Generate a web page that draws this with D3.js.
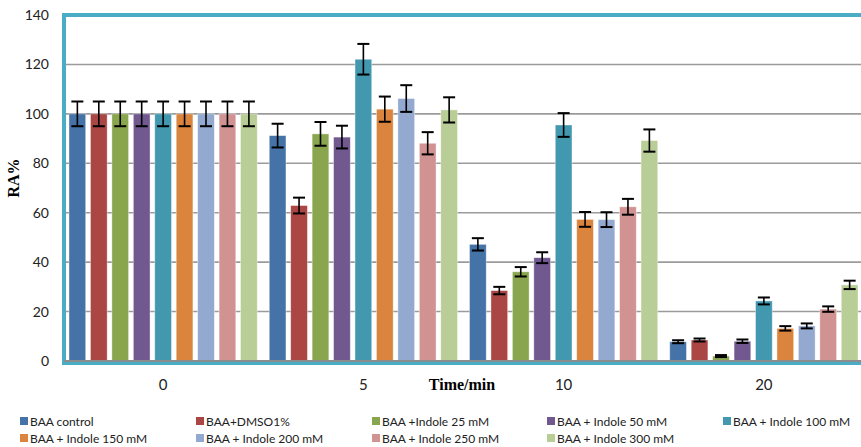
<!DOCTYPE html>
<html><head><meta charset="utf-8">
<script src="https://cdn.jsdelivr.net/npm/d3@7/dist/d3.min.js"></script>
<style>body{margin:0;background:#fff;}svg{display:block;}</style>
</head><body>
<svg id="chart" width="861" height="447"></svg>
<script>
const categories = ["0", "5", "10", "20"];
const seriesNames = ["BAA control", "BAA+DMSO1%", "BAA +Indole 25 mM", "BAA + Indole 50 mM", "BAA + Indole 100 mM",
  "BAA + Indole 150 mM", "BAA + Indole 200 mM", "BAA + Indole 250 mM", "BAA + Indole 300 mM"];
const colors = ["#4572A7", "#AA4643", "#89A54E", "#71588F", "#4198AF", "#DB843D", "#93A9CF", "#D19392", "#B9CD96"];
// values per series, across categories 0,5,10,20
const valControl = [100, 91.2, 47.2, 7.8];
const valDMSO = [100, 62.9, 28.5, 8.5];
const val25 = [100, 91.9, 36.1, 2.0];
const val50 = [100, 90.6, 41.8, 8.0];
const val100 = [100, 122.1, 95.5, 24.3];
const val150 = [100, 101.9, 57.3, 13.2];
const val200 = [100, 106.2, 57.2, 14.2];
const val250 = [100, 88.1, 62.4, 21.0];
const val300 = [100, 101.6, 89.2, 30.8];
const errControl = [5, 4.8, 2.5, 0.6];
const errDMSO = [5, 3.2, 1.5, 0.6];
const err25 = [5, 4.8, 1.9, 0.4];
const err50 = [5, 4.6, 2.2, 0.7];
const err100 = [5, 6.2, 4.8, 1.4];
const err150 = [5, 5.1, 3.0, 0.9];
const err200 = [5, 5.4, 3.0, 1.0];
const err250 = [5, 4.5, 3.2, 1.1];
const err300 = [5, 5.1, 4.5, 1.7];
const yTicks = [0, 20, 40, 60, 80, 100, 120, 140];

(function () {
const values = [valControl, valDMSO, val25, val50, val100, val150, val200, val250, val300];
const errors = [errControl, errDMSO, err25, err50, err100, err150, err200, err250, err300];

const svg = d3.select("#chart");
const pLeft = 64, pRight = 864, pTop = 15, pBottom = 361;

const x0 = d3.scaleBand().domain(categories).range([pLeft - 1, pRight]).paddingInner(0).paddingOuter(0);
const x1 = d3.scaleBand().domain(d3.range(seriesNames.length)).range([6, x0.bandwidth() - 6]).paddingInner(0.22).paddingOuter(0);
const y = d3.scaleLinear().domain([0, 140]).range([pBottom, pTop]);

// gridlines
svg.append("g").selectAll("line").data(yTicks.filter(t => t > 0 && t < 140)).join("line")
  .attr("x1", pLeft).attr("x2", pRight).attr("y1", d => y(d)).attr("y2", d => y(d))
  .attr("stroke", "#9b9b9b").attr("stroke-width", 1.6);

// y tick labels
svg.append("g").selectAll("text").data(yTicks).join("text")
  .attr("x", 49).attr("y", d => y(d) + 5).attr("text-anchor", "end")
  .attr("font-family", "Lato, 'Open Sans', sans-serif").attr("font-size", 14).attr("fill", "#222")
  .text(d => d);

// bars
const data = [];
categories.forEach((c, ci) => seriesNames.forEach((s, si) => data.push({c, si, v: values[si][ci], e: errors[si][ci]})));
svg.append("g").selectAll("rect").data(data).join("rect")
  .attr("x", d => x0(d.c) + x1(d.si)).attr("width", x1.bandwidth())
  .attr("y", d => y(d.v)).attr("height", d => y(0) - y(d.v))
  .attr("fill", d => colors[d.si]).attr("stroke", "#ffffff").attr("stroke-opacity", 0.5).attr("stroke-width", 0.8);

// axis frame
svg.append("path")
  .attr("d", `M${pRight},${pTop} L${pLeft},${pTop} L${pLeft},${pBottom + 2} L${pRight},${pBottom + 2}`)
  .attr("fill", "none").attr("stroke", "#4bacc6").attr("stroke-width", 4);
svg.append("line").attr("x1", pLeft).attr("x2", pRight).attr("y1", pBottom).attr("y2", pBottom)
  .attr("stroke", "#8c8c8c").attr("stroke-width", 1.8);

// error bars
const eg = svg.append("g").attr("stroke", "#000").attr("stroke-width", 1.6);
data.forEach(d => {
  const cx = x0(d.c) + x1(d.si) + x1.bandwidth() / 2;
  const yt = y(d.v + d.e), yb = y(d.v - d.e);
  eg.append("line").attr("x1", cx).attr("x2", cx).attr("y1", yt).attr("y2", yb);
  eg.append("line").attr("x1", cx - 6).attr("x2", cx + 6).attr("y1", yt).attr("y2", yt).attr("stroke-width", 2);
  eg.append("line").attr("x1", cx - 6).attr("x2", cx + 6).attr("y1", yb).attr("y2", yb).attr("stroke-width", 2);
});

// x tick labels
svg.append("g").selectAll("text").data(categories).join("text")
  .attr("x", d => x0(d) + x0.bandwidth() / 2).attr("y", 390).attr("text-anchor", "middle")
  .attr("font-family", "Lato, 'Open Sans', sans-serif").attr("font-size", 15).attr("fill", "#222")
  .text(d => d);

// axis titles
svg.append("text").attr("x", 462).attr("y", 390).attr("text-anchor", "middle")
  .attr("font-family", "'Liberation Serif', 'Times New Roman', serif").attr("font-weight", "bold").attr("font-size", 16)
  .text("Time/min");
svg.append("text").attr("transform", "translate(19,178) rotate(-90)").attr("text-anchor", "middle")
  .attr("font-family", "'Liberation Serif', 'Times New Roman', serif").attr("font-weight", "bold").attr("font-size", 16)
  .text("RA%");

// legend
const legX = [20, 196, 372, 547, 723];
const leg = svg.append("g");
seriesNames.forEach((s, i) => {
  const col = i % 5, row = Math.floor(i / 5);
  const lx = legX[col], ly = 422 + row * 17;
  leg.append("rect").attr("x", lx).attr("y", ly - 5).attr("width", 8).attr("height", 8).attr("fill", colors[i]);
  leg.append("text").attr("x", lx + 10).attr("y", ly + 4)
    .attr("font-family", "Lato, 'Open Sans', sans-serif").attr("font-size", 12).attr("fill", "#222").text(s);
});
})();
</script>
</body></html>
